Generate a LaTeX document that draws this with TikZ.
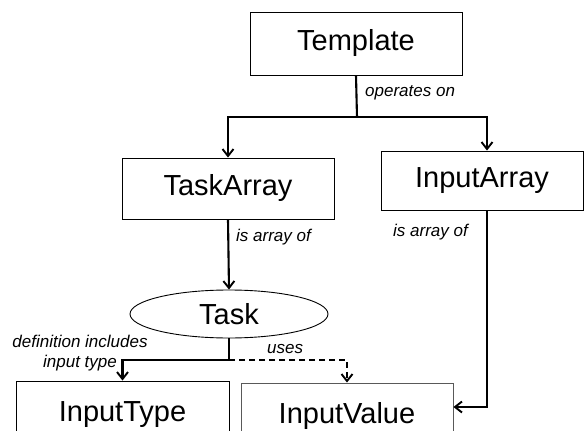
\documentclass[tikz,border=0pt]{standalone}
\usepackage{fontspec}
\setmainfont{Liberation Sans}
\usetikzlibrary{arrows.meta,shapes.geometric}
\begin{document}
\begin{tikzpicture}[x=1pt,y=-1pt,
  box/.style={draw,line width=0.9pt,rectangle,inner sep=0pt,font=\fontsize{29}{32}\selectfont},
  oval/.style={draw,line width=0.9pt,ellipse,inner sep=0pt,font=\fontsize{29}{32}\selectfont},
  conn/.style={line width=2.1pt,-{Straight Barb[length=7pt,width=11pt,line width=1.9pt]}},
  lbl/.style={font=\fontsize{17}{19.5}\selectfont\itshape,inner sep=0pt}]
\useasboundingbox (0,0) rectangle (584,431);
\begin{scope}
\clip (0,0) rectangle (584,431);
\node[box,minimum width=212pt,minimum height=63pt] (tpl) at (356,43.5) {Template};
\node[box,minimum width=212pt,minimum height=61pt] (ta) at (228,188.5) {TaskArray};
\node[box,minimum width=202pt,minimum height=59pt] (ia) at (482,180.5) {InputArray};
\node[oval,minimum width=198pt,minimum height=48pt] (task) at (229,314) {Task};
\node[box,minimum width=213pt,minimum height=67pt] (it) at (122.5,414.5) {InputType};
\node[box,draw=black!65,minimum width=212pt,minimum height=65pt] (iv) at (347,415.5) {InputValue};

\coordinate (j1) at (357,117);
\coordinate (j2) at (229,360);

\draw[line width=2.1pt] (tpl.south) -- (j1);
\draw[conn] (j1) -| (ta.north);
\draw[conn] (j1) -| ([xshift=5pt]ia.north);
\draw[conn] (ta.south) -- (task.north);
\draw[conn] ([xshift=5pt]ia.south) |- ([yshift=8.5pt]iv.east);
\draw[line width=2.1pt] (task.south) -- (j2);
\draw[conn] (j2) -| (it.north);
\draw[conn,dash pattern=on 6pt off 4pt,line width=1.6pt] (j2) -| (iv.north);

\node[lbl,anchor=west] (l1) at (365,93) {operates on};
\node[lbl,anchor=west] (l2) at (236,237) {is array of};
\node[lbl,anchor=west] (l3) at (393,232) {is array of};
\node[lbl,align=center] (l4) at (80,353) {definition includes\\input type};
\node[lbl,anchor=west] (l5) at (267,349) {uses};
\end{scope}
\end{tikzpicture}
\end{document}
